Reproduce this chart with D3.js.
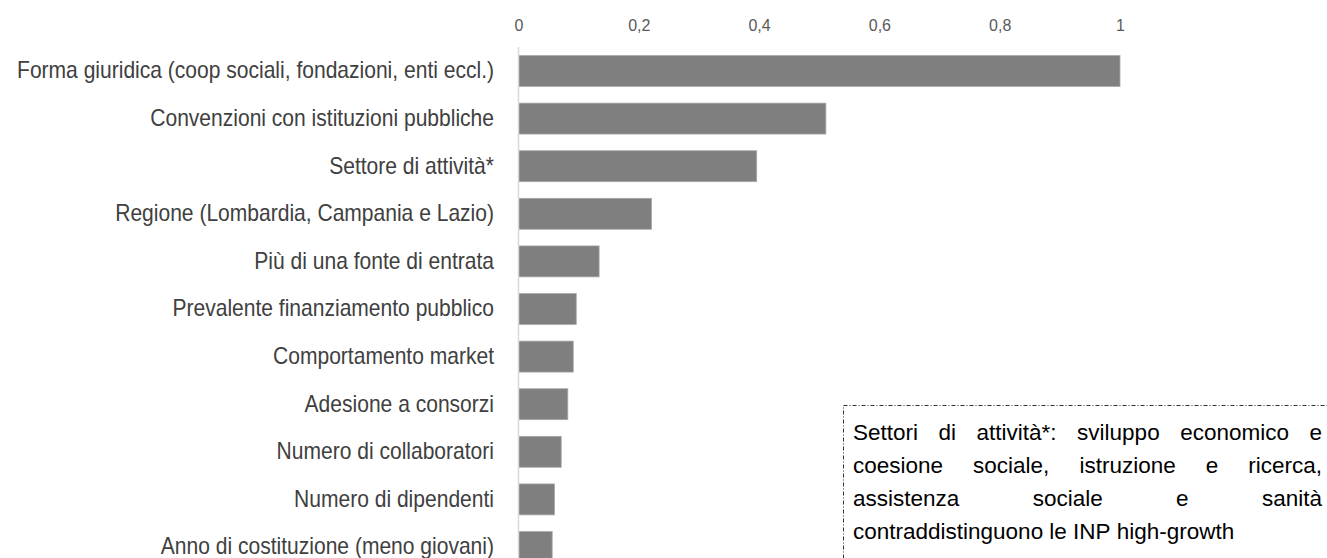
<!DOCTYPE html>
<html>
<head>
<meta charset="utf-8">
<script src="https://cdn.jsdelivr.net/npm/d3@7"></script>
<style>
  body { margin: 0; background: white; }
  svg { display: block; font-family: "Liberation Sans", Arial, sans-serif; }
</style>
</head>
<body>
<script>
// Data
var categories = [
	"Forma giuridica (coop sociali, fondazioni, enti eccl.)",
	"Convenzioni con istituzioni pubbliche",
	"Settore di attività*",
	"Regione (Lombardia, Campania e Lazio)",
	"Più di una fonte di entrata",
	"Prevalente finanziamento pubblico",
	"Comportamento market",
	"Adesione a consorzi",
	"Numero di collaboratori",
	"Numero di dipendenti",
	"Anno di costituzione (meno giovani)"
];
var values = [1.0, 0.511, 0.396, 0.221, 0.134, 0.096, 0.091, 0.082, 0.071, 0.060, 0.056];
var tickValues = [0, 0.2, 0.4, 0.6, 0.8, 1];
var noteLines = [
	"Settori di attività*: sviluppo economico e",
	"coesione sociale, istruzione e ricerca,",
	"assistenza sociale e sanità",
	"contraddistinguono le INP high-growth"
];

var width = 1327, height = 558;
var squeeze = 0.915;   // category labels in the source are a bit narrow

var canvas = d3.select("body").append("svg")
	.attr("width", width)
	.attr("height", height);

// Scales
var xScale = d3.scaleLinear()
	.domain([0, 1])
	.range([518.5, 1120]);

var yScale = d3.scaleBand()
	.domain(categories)
	.range([47.2, 570.8])
	.paddingInner(0.35)
	.paddingOuter(0.175);

// Top axis (tick labels only)
var xAxis = d3.axisTop(xScale)
	.tickValues(tickValues)
	.tickSize(0)
	.tickPadding(0)
	.tickFormat(function(d){ return d3.format("")(d).replace(".", ","); });

var xAxisGroup = canvas.append("g")
	.attr("transform", "translate(0,31)")
	.call(xAxis);
xAxisGroup.select(".domain").remove();
xAxisGroup.selectAll("text")
	.attr("fill", "#595959")
	.style("font-size", "16px")
	.style("font-family", "'Liberation Sans', Arial, sans-serif");

// Bars
canvas.append("g").selectAll("rect")
	.data(values)
	.enter().append("rect")
	.attr("x", xScale(0))
	.attr("y", function(d, i){ return yScale(categories[i]); })
	.attr("width", function(d){ return xScale(d) - xScale(0); })
	.attr("height", yScale.bandwidth())
	.attr("fill", "#7f7f7f")
	.attr("stroke", "#a8a8a8")
	.attr("stroke-width", 0.8);

// Zero line
canvas.append("line")
	.attr("x1", xScale(0)).attr("x2", xScale(0))
	.attr("y1", 47).attr("y2", height)
	.attr("stroke", "#d9d9d9")
	.attr("stroke-width", 1.5);

// Category labels
var yAxis = d3.axisLeft(yScale).tickSize(0).tickPadding(0);
var yAxisGroup = canvas.append("g")
	.attr("transform", "translate(494,0) scale(" + squeeze + ",1)")
	.call(yAxis);
yAxisGroup.select(".domain").remove();
yAxisGroup.selectAll("text")
	.attr("fill", "#404040")
	.style("font-size", "23px")
	.style("font-family", "'Liberation Sans', Arial, sans-serif");

// Note box
var note = canvas.append("g");
note.append("rect")
	.attr("x", 843.5)
	.attr("y", 405.5)
	.attr("width", 520)
	.attr("height", 200)
	.attr("fill", "white")
	.attr("stroke", "#333")
	.attr("stroke-width", 1)
	.attr("stroke-dasharray", "4,2,1,2");

// justified text, last line left aligned
var noteLeft = 853, noteRight = 1322, lineGap = 33, firstBaseline = 440;

noteLines.forEach(function(line, li){
	var words = line.split(" ");
	var y = firstBaseline + li*lineGap;
	var nodes = words.map(function(w){
		return note.append("text")
			.attr("y", y)
			.attr("fill", "#000")
			.style("font-size", "22.5px")
			.text(w);
	});
	var widths = nodes.map(function(n){ return n.node().getComputedTextLength(); });
	var total = d3.sum(widths);
	var justify = li < noteLines.length - 1;
	var spaceW = justify ? (noteRight - noteLeft - total)/(words.length - 1) : 6.2;
	var x = noteLeft;
	nodes.forEach(function(n, i){
		n.attr("x", x);
		x += widths[i] + spaceW;
	});
});
</script>
</body>
</html>
